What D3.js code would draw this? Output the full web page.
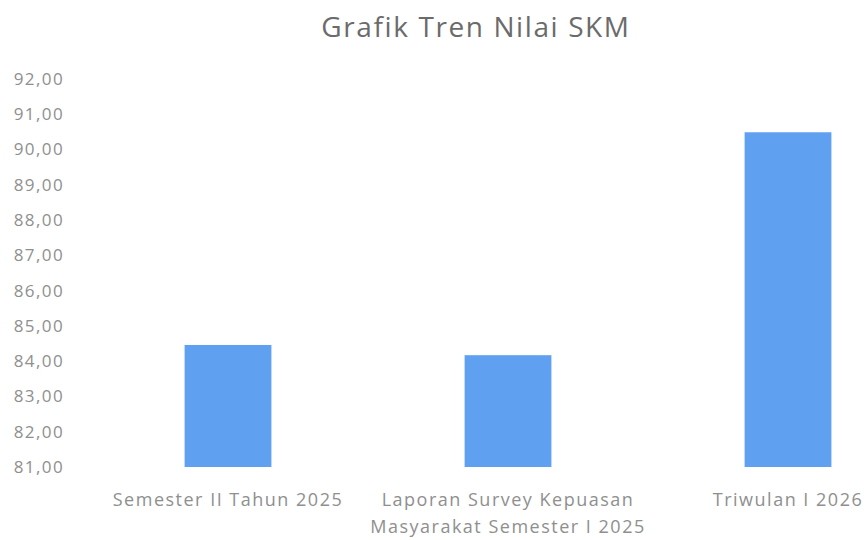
<!DOCTYPE html>
<html>
<head>
<meta charset="utf-8">
<script src="https://cdn.jsdelivr.net/npm/d3@7"></script>
<style>
  body { margin: 0; background: #fff; }
  text { font-family: "Open Sans", sans-serif; }
</style>
</head>
<body>
<div id="chart"></div>
<script>
const categories = [
  ["Semester II Tahun 2025"],
  ["Laporan Survey Kepuasan", "Masyarakat Semester I 2025"],
  ["Triwulan I 2026"]
];
const values = [84.46, 84.17, 90.49];
const yTicks = [81, 82, 83, 84, 85, 86, 87, 88, 89, 90, 91, 92];

const width = 866, height = 540;
const svg = d3.select("#chart").append("svg")
  .attr("width", width)
  .attr("height", height);

// title
svg.append("text")
  .attr("x", 476)
  .attr("y", 37)
  .attr("text-anchor", "middle")
  .style("font-size", "28px")
  .style("letter-spacing", "1.6px")
  .style("fill", "#6b6b6b")
  .text("Grafik Tren Nilai SKM");

const x = d3.scaleBand()
  .domain(d3.range(categories.length))
  .range([88, 928])
  .paddingInner(0.69)
  .paddingOuter(0.345);

const y = d3.scaleLinear()
  .domain([81, 92])
  .range([467, 79]);

// y axis labels
const yAxis = d3.axisLeft(y)
  .tickValues(yTicks)
  .tickSize(0)
  .tickPadding(0)
  .tickFormat(d => d3.format(".2f")(d).replace(".", ","));

const gy = svg.append("g")
  .attr("transform", "translate(64,0)")
  .call(yAxis);
gy.select(".domain").remove();
gy.selectAll("text")
  .style("font-family", "'Open Sans', sans-serif")
  .style("font-size", "17px")
  .style("letter-spacing", "1.4px")
  .style("fill", "#8f8f8f");

// bars
svg.selectAll("rect.bar")
  .data(values)
  .join("rect")
  .attr("class", "bar")
  .attr("x", (d, i) => x(i))
  .attr("y", d => y(d))
  .attr("width", x.bandwidth())
  .attr("height", d => y(81) - y(d))
  .style("fill", "#60a0f0");

// category labels
const lab = svg.selectAll("text.cat")
  .data(categories)
  .join("text")
  .attr("class", "cat")
  .attr("text-anchor", "middle")
  .attr("x", (d, i) => x(i) + x.bandwidth() / 2)
  .attr("y", 506)
  .style("font-size", "18px")
  .style("letter-spacing", "1.5px")
  .style("fill", "#8f8f8f");

lab.selectAll("tspan")
  .data(d => d)
  .join("tspan")
  .attr("x", function () { return this.parentNode.getAttribute("x"); })
  .attr("dy", (d, i) => i === 0 ? 0 : 27)
  .text(d => d);
</script>
</body>
</html>
